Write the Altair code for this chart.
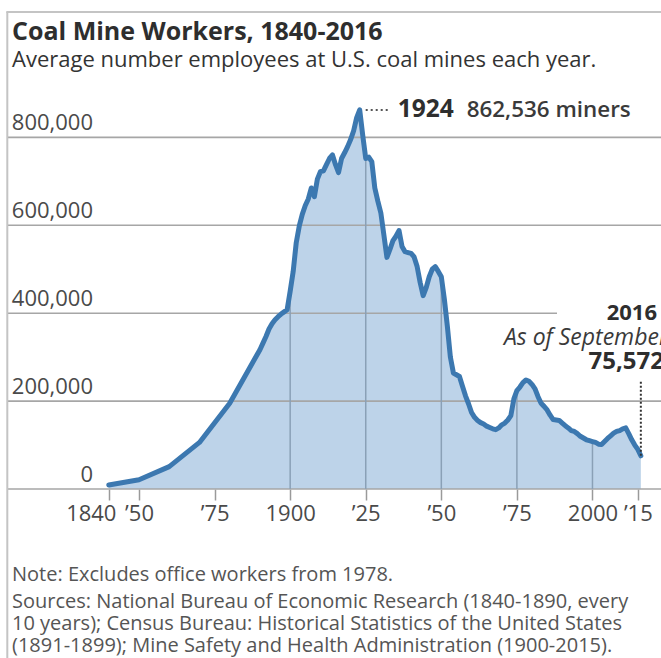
import altair as alt
import pandas as pd

# ---------------- data ----------------
early_years = [1840, 1850, 1860, 1870, 1880, 1890]
early_values = [9000, 21000, 51000, 106000, 195000, 317000]

annual_years = list(range(1891, 2017))
annual_values = [
    332000, 347000, 364000, 376000, 385000, 392000, 398000, 403000, 408000,  # 1891-1899
    450000, 495000, 560000, 598000, 625000, 645000, 660000, 685000, 665000, 705000,  # 1900-1909
    722000, 724000, 738000, 752000, 760000, 738000, 720000, 752000, 765000, 779000,  # 1910-1919
    795000, 815000, 845000, 862536, 805000, 752000, 755000, 745000, 685000, 655000,  # 1920-1929
    628000, 578000, 527000, 545000, 565000, 575000, 588000, 552000, 540000, 538000,  # 1930-1939
    536000, 528000, 506000, 470000, 440000, 458000, 483000, 500000, 506000, 495000,  # 1940-1949
    483000, 432000, 370000, 300000, 264000, 260000, 256000, 234000, 212000, 194000,  # 1950-1959
    174000, 163000, 156000, 151000, 148000, 143000, 140000, 137000, 135000, 139000,  # 1960-1969
    146000, 150000, 157000, 167000, 205000, 224000, 232000, 242000, 248000, 245000,  # 1970-1979
    238000, 228000, 210000, 195000, 188000, 180000, 168000, 158000, 157000, 156000,  # 1980-1989
    150000, 144000, 139000, 133000, 131000, 126000, 120000, 116000, 112000, 110000,  # 1990-1999
    108000, 106000, 102000, 101000, 108000, 115000, 121000, 127000, 131000, 133000,  # 2000-2009
    137000, 139000, 126000, 112000, 100000, 90000, 75572,  # 2010-2016
]
assert len(annual_years) == len(annual_values)

x_ticks = [1840, 1850, 1875, 1900, 1925, 1950, 1975, 2000, 2015]
x_tick_labels = ["1840", "\u201950", "\u201975", "1900", "\u201925", "\u201950", "\u201975", "2000", "\u201915"]
y_ticks = [0, 200000, 400000, 600000, 800000]
y_tick_labels = ["0", "200,000", "400,000", "600,000", "800,000"]
grid_years = [1875, 1900, 1925, 1950, 1975, 2000]

peak_year = [1923]
peak_value = [862536]
peak_year_text = ["1924"]
peak_value_text = ["862,536 miners"]

end_year = [2016]
end_value = [75572]
end_leader_top = [245000]
end_texts = ["2016", "As of September", "75,572"]

title_text = "Coal Mine Workers, 1840-2016"
subtitle_text = "Average number employees at U.S. coal mines each year."
note_text = "Note: Excludes office workers from 1978."
source_lines = [
    "Sources: National Bureau of Economic Research (1840-1890, every",
    "10 years); Census Bureau: Historical Statistics of the United States",
    "(1891-1899); Mine Safety and Health Administration (1900-2015).",
]

# ---------------- tables ----------------
df = pd.DataFrame({"year": early_years + annual_years, "value": early_values + annual_values})
ydf = pd.DataFrame({"v": y_ticks, "label": y_tick_labels})
peak_df = pd.DataFrame({"year": peak_year, "value": peak_value,
                        "ytext": peak_year_text, "vtext": peak_value_text})
end_df = pd.DataFrame({"year": end_year, "value": end_value, "top": end_leader_top})

FONT = "Open Sans"
DARK = "#2e2e2e"
GRAY = "#4a4a4a"

# label expression built from the tick arrays
expr = "''"
for t, lab in zip(reversed(x_ticks), reversed(x_tick_labels)):
    expr = f"datum.value == {t} ? '{lab}' : ({expr})"

xs = alt.Scale(domain=[1807.32, 2022.67], nice=False, zero=False)
ys = alt.Scale(domain=[0, 885100], nice=False, zero=True)
xaxis = alt.Axis(values=x_ticks, labelExpr=expr, title=None, domain=False, grid=False,
                 ticks=True, tickSize=11, tickColor="#9a9a9a", tickWidth=1.5,
                 labelFont=FONT, labelFontSize=22, labelColor=GRAY, labelPadding=3,
                 labelOverlap=False, labelFlush=False, labelBound=False,
                 labelOffset={"condition": {"test": "datum.value == 1840", "value": -18}, "value": 0})

X = alt.X("year:Q", scale=xs, axis=xaxis)
Y = alt.Y("value:Q", scale=ys, axis=None)

area = alt.Chart(df).mark_area(color="#bdd3e9", opacity=1).encode(x=X, y=Y)

hgrid = alt.Chart(ydf).transform_filter("datum.v != 400000").mark_rule(
    color="#a6a6a6", strokeWidth=1.6).encode(
    y=alt.Y("v:Q", scale=ys, axis=None), x=alt.value(-3), x2=alt.value(651))
hgrid400 = alt.Chart(ydf).transform_filter("datum.v == 400000").mark_rule(
    color="#a6a6a6", strokeWidth=1.6).encode(
    y=alt.Y("v:Q", scale=ys, axis=None), x=alt.value(-3), x2=alt.value(547))

vgrid = alt.Chart(df).transform_filter(
    alt.FieldOneOfPredicate(field="year", oneOf=grid_years)).mark_rule(
    color="#8aa0b6", strokeWidth=1.5).encode(x=X, y=Y, y2=alt.datum(0))

line = alt.Chart(df).mark_line(color="#3c78b0", strokeWidth=5, strokeJoin="round",
                               strokeCap="round").encode(x=X, y=Y)

ylabels = alt.Chart(ydf).mark_text(align="right", baseline="alphabetic", dy=-7,
                                   font=FONT, fontSize=22, color=GRAY).encode(
    y=alt.Y("v:Q", scale=ys, axis=None), x=alt.value(83), text="label:N")

peak_leader = alt.Chart(peak_df).mark_rule(color="#555555", strokeWidth=2, strokeDash=[2, 3],
                                           xOffset=6, x2Offset=31).encode(
    x=X, x2="year:Q", y=Y)
peak_t1 = alt.Chart(peak_df).mark_text(align="left", baseline="alphabetic", dx=38, dy=7,
                                       font=FONT, fontSize=24.5, fontWeight="bold", color=DARK).encode(
    x=X, y=Y, text="ytext:N")
peak_t2 = alt.Chart(peak_df).mark_text(align="left", baseline="alphabetic", dx=107, dy=7,
                                       font=FONT, fontSize=22.4, fontWeight=600, color="#3a3a3a").encode(
    x=X, y=Y, text="vtext:N")

end_leader = alt.Chart(end_df).mark_rule(color="#333333", strokeWidth=2, strokeDash=[2, 2]).encode(
    x=X, y=Y, y2="top:Q")

end1 = alt.Chart(pd.DataFrame({"t": [end_texts[0]]})).mark_text(
    align="right", baseline="alphabetic", font=FONT, fontSize=22, fontWeight="bold", color=DARK).encode(
    x=alt.value(647), y=alt.value(220), text="t:N")
end2 = alt.Chart(pd.DataFrame({"t": [end_texts[1]]})).mark_text(
    align="right", baseline="alphabetic", font=FONT, fontSize=23, fontStyle="italic", color="#3a3a3a").encode(
    x=alt.value(658), y=alt.value(245), text="t:N")
end3 = alt.Chart(pd.DataFrame({"t": [end_texts[2]]})).mark_text(
    align="right", baseline="alphabetic", font=FONT, fontSize=24, fontWeight="bold", color=DARK).encode(
    x=alt.value(654), y=alt.value(269), text="t:N")

title = alt.Chart(pd.DataFrame({"t": [title_text]})).mark_text(
    align="left", baseline="alphabetic", font=FONT, fontSize=25, fontWeight="bold", color=DARK).encode(
    x=alt.value(2), y=alt.value(-60), text="t:N")
subtitle = alt.Chart(pd.DataFrame({"t": [subtitle_text]})).mark_text(
    align="left", baseline="alphabetic", font=FONT, fontSize=22, color="#333333").encode(
    x=alt.value(2), y=alt.value(-33.3), text="t:N")
note = alt.Chart(pd.DataFrame({"t": [note_text]})).mark_text(
    align="left", baseline="alphabetic", font=FONT, fontSize=20, color="#555555").encode(
    x=alt.value(2), y=alt.value(481), text="t:N")
sources = alt.Chart(pd.DataFrame({"t": ["\n".join(source_lines)]})).mark_text(
    align="left", baseline="alphabetic", font=FONT, fontSize=20, color="#555555",
    lineBreak="\n", lineHeight=22).encode(
    x=alt.value(2), y=alt.value(508), text="t:N")

frame_left = alt.Chart(pd.DataFrame({"a": [0]})).mark_rule(color="#c4c4c4", strokeWidth=2).encode(
    x=alt.value(-2.7), y=alt.value(-88), y2=alt.value(560))
frame_top = alt.Chart(pd.DataFrame({"a": [0]})).mark_rule(color="#c4c4c4", strokeWidth=2).encode(
    x=alt.value(-3.7), x2=alt.value(652), y=alt.value(-88))

chart = alt.layer(
    area, hgrid, hgrid400, vgrid, line, ylabels, peak_leader, peak_t1, peak_t2,
    end_leader, end1, end2, end3, title, subtitle, note, sources, frame_left, frame_top,
).properties(
    width=651, height=389,
    autosize=alt.AutoSizeParams(type="none"),
    padding={"left": 10, "top": 100, "right": 0, "bottom": 169},
    background="white",
).configure_view(stroke=None)

chart.save("out.html", embed_options={"renderer": "svg", "actions": False})
